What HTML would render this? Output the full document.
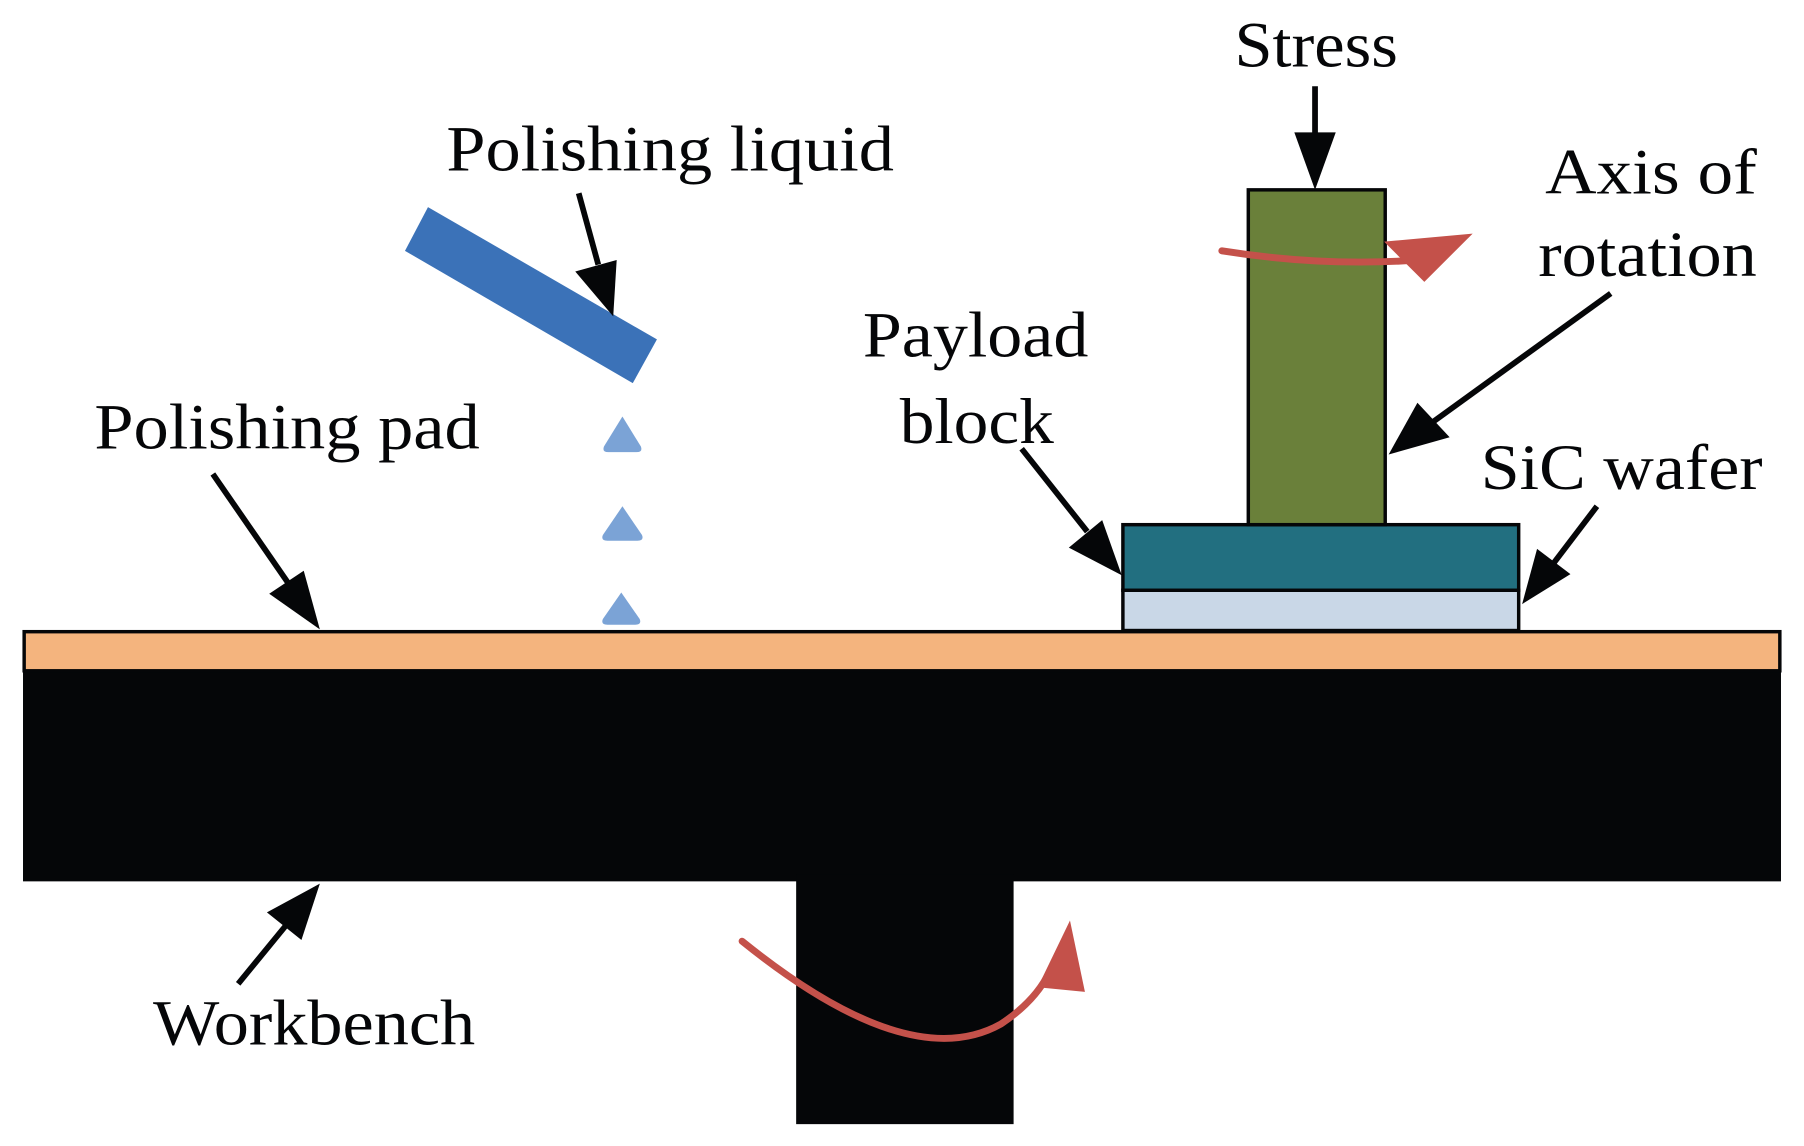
<!DOCTYPE html>
<html><head><style>html,body{margin:0;padding:0;background:#fff}svg{display:block}</style></head>
<body>
<svg width="1804" height="1146" viewBox="0 0 1568 996" preserveAspectRatio="none" xmlns="http://www.w3.org/2000/svg">
<!-- workbench -->
<rect x="20" y="583" width="1528" height="183" fill="#050608"/>
<rect x="692" y="760" width="189" height="217" fill="#050608"/>
<!-- pad -->
<rect x="21" y="549" width="1526" height="34" fill="#F4B47E" stroke="#050608" stroke-width="3"/>
<!-- wafer & payload -->
<rect x="976" y="513" width="344" height="35" fill="#C9D7E7" stroke="#050608" stroke-width="3"/>
<rect x="976" y="456" width="344" height="57" fill="#226F80" stroke="#050608" stroke-width="3"/>
<!-- column -->
<rect x="1085" y="165" width="119" height="291" fill="#6A803A" stroke="#050608" stroke-width="3"/>
<!-- nozzle -->
<polygon points="352,218 372,180 571,295 550,333" fill="#3B72B8"/>
<!-- droplets -->
<g fill="#7BA3D6">
<path d="M541,362 L557,388 Q559,393 553,393 L529,393 Q523,393 525,388 Z"/>
<path d="M541,440 L558,465 Q560,470 554,470 L528,470 Q522,470 524,465 Z"/>
<path d="M540,515 L556,538 Q558,543 552,543 L528,543 Q522,543 524,538 Z"/>
</g>
<!-- black arrows -->
<g stroke="#050608" stroke-width="5" fill="#050608">
<line x1="1143" y1="75" x2="1143" y2="120"/>
<path d="M1125,115 L1161,115 L1143,165 Z" stroke="none"/>
<line x1="503" y1="168" x2="520" y2="230"/>
<path d="M500,236 L536,226 L533,275 Z" stroke="none"/>
<line x1="1400" y1="255" x2="1245" y2="367"/>
<path d="M1232,350 L1260,380 L1207,395 Z" stroke="none"/>
<line x1="888" y1="390" x2="945" y2="462"/>
<path d="M929,476 L958,452 L975,500 Z" stroke="none"/>
<line x1="1388" y1="440" x2="1350" y2="490"/>
<path d="M1336,477 L1365,499 L1323,525 Z" stroke="none"/>
<line x1="185" y1="412" x2="250" y2="506"/>
<path d="M234,516 L264,496 L278,547 Z" stroke="none"/>
<line x1="207" y1="855" x2="248" y2="805"/>
<path d="M232,793 L262,817 L278,768 Z" stroke="none"/>
</g>
<!-- red arrows -->
<g stroke="#C4514A" stroke-width="6" fill="none" stroke-linecap="round">
<path d="M1062,218 Q1150,232 1232,226"/>
<path d="M645,818 Q790,935 870,890 Q900,870 912,845"/>
</g>
<g fill="#C4514A">
<path d="M1203,210 L1280,203 L1238,245 Z"/>
<path d="M902,858 L930,800 L943,862 Z"/>
</g>
<!-- labels -->
<g font-family="'Liberation Serif', serif" font-size="56" fill="#050608" lengthAdjust="spacingAndGlyphs">
<text x="1073" y="58" textLength="142" lengthAdjust="spacingAndGlyphs">Stress</text>
<text x="388" y="148" textLength="389" lengthAdjust="spacingAndGlyphs">Polishing liquid</text>
<text x="1343" y="168" textLength="184" lengthAdjust="spacingAndGlyphs">Axis of</text>
<text x="1337" y="240" textLength="190" lengthAdjust="spacingAndGlyphs">rotation</text>
<text x="750" y="310" textLength="196" lengthAdjust="spacingAndGlyphs">Payload</text>
<text x="782" y="385" textLength="134" lengthAdjust="spacingAndGlyphs">block</text>
<text x="82" y="390" textLength="335" lengthAdjust="spacingAndGlyphs">Polishing pad</text>
<text x="1287" y="425" textLength="245" lengthAdjust="spacingAndGlyphs">SiC wafer</text>
<text x="133" y="908" textLength="280" lengthAdjust="spacingAndGlyphs">Workbench</text>
</g>
</svg>
</body></html>
